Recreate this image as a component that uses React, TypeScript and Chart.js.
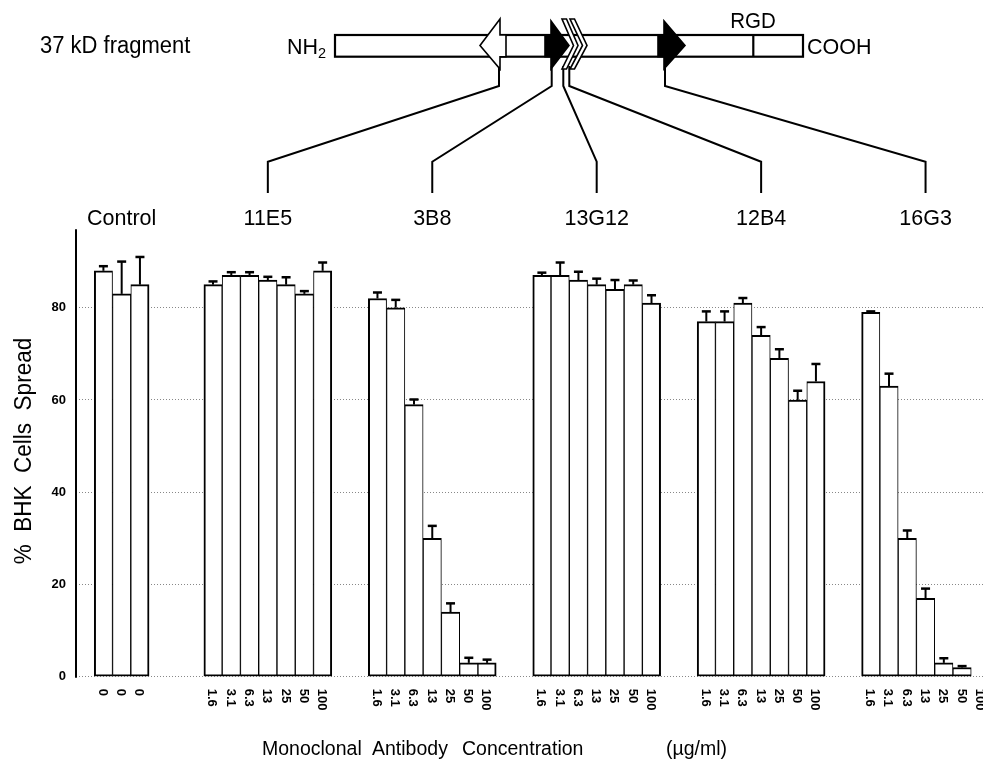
import React, { useEffect, useRef } from 'react';
import { Chart, registerables } from 'chart.js';

Chart.register(...registerables);

// ---------------- data ----------------
const groupNames = ['Control', '11E5', '3B8', '13G12', '12B4', '16G3'];
const controlConcentrations = ['0', '0', '0'];
const antibodyConcentrations = ['1.6', '3.1', '6.3', '13', '25', '50', '100'];

const controlValues = [88, 83, 85];
const controlErrors = [1, 7, 6];
const values11E5 = [85, 87, 87, 86, 85, 83, 88];
const errors11E5 = [0.7, 0.7, 0.7, 0.7, 1.6, 0.6, 1.8];
const values3B8 = [82, 80, 59, 30, 14, 3, 3];
const errors3B8 = [1.3, 1.7, 1.1, 2.7, 1.9, 1.1, 0.7];
const values13G12 = [87, 87, 86, 85, 84, 85, 81];
const errors13G12 = [0.6, 2.8, 1.8, 1.3, 2, 0.9, 1.7];
const values12B4 = [77, 77, 81, 74, 69, 60, 64];
const errors12B4 = [2.2, 2.2, 1.1, 1.8, 2, 2, 3.8];
const values16G3 = [79, 63, 30, 17, 3, 2, 0];
const errors16G3 = [0.2, 2.7, 1.7, 2.1, 1, 0.3, 0];

// empty category slots placed before each group
const gapSlots = [1, 3, 2, 2, 2, 2];
const yMin = 0;
const yMax = 97;
const yStep = 20;

// ---------------- build category table ----------------
const groupConc = [controlConcentrations, antibodyConcentrations, antibodyConcentrations, antibodyConcentrations, antibodyConcentrations, antibodyConcentrations];
const groupValues = [controlValues, values11E5, values3B8, values13G12, values12B4, values16G3];
const groupErrors = [controlErrors, errors11E5, errors3B8, errors13G12, errors12B4, errors16G3];

const labels: string[] = [];
const barValues: (number | null)[] = [];
const barErrors: (number | null)[] = [];
const groupRanges: [number, number][] = [];
groupNames.forEach((_, gi) => {
  for (let k = 0; k < gapSlots[gi]; k++) {
    labels.push('');
    barValues.push(null);
    barErrors.push(null);
  }
  const start = labels.length;
  groupConc[gi].forEach((c, j) => {
    labels.push(c);
    barValues.push(groupValues[gi][j]);
    barErrors.push(groupErrors[gi][j]);
  });
  groupRanges.push([start, labels.length - 1]);
});

const FONT = '"Liberation Sans", Arial, Helvetica, sans-serif';

function drawText(ctx: CanvasRenderingContext2D, s: string, x: number, y: number, size: number,
  opt: { align?: CanvasTextAlign; weight?: string; sy?: number; rot?: number; baseline?: CanvasTextBaseline } = {}) {
  ctx.save();
  ctx.translate(x, y);
  if (opt.rot) ctx.rotate(opt.rot);
  ctx.scale(1, opt.sy ?? 1);
  ctx.font = `${opt.weight ?? 'normal'} ${size}px ${FONT}`;
  ctx.textAlign = opt.align ?? 'left';
  ctx.textBaseline = opt.baseline ?? 'alphabetic';
  ctx.fillStyle = '#000';
  ctx.fillText(s, 0, 0);
  ctx.restore();
}

function poly(ctx: CanvasRenderingContext2D, pts: number[][], fill: string, stroke: boolean) {
  ctx.beginPath();
  pts.forEach((p, i) => (i ? ctx.lineTo(p[0], p[1]) : ctx.moveTo(p[0], p[1])));
  ctx.closePath();
  ctx.fillStyle = fill;
  ctx.fill();
  if (stroke) ctx.stroke();
}

// schematic anchor x positions of the epitopes (decoration)
const connectorTopX = [null, 499, 551.7, 563.3, 569.3, 665];

const decorPlugin = {
  id: 'decor',
  afterDatasetsDraw(chart: any) {
    const ctx: CanvasRenderingContext2D = chart.ctx;
    const meta = chart.getDatasetMeta(0);
    const ys = chart.scales.y;
    ctx.save();
    ctx.strokeStyle = '#000';
    meta.data.forEach((bar: any, i: number) => {
      const v = barValues[i];
      const e = barErrors[i];
      if (v == null || !e) return;
      const x = bar.x;
      const y0 = ys.getPixelForValue(v);
      const y1 = ys.getPixelForValue(v + e);
      ctx.lineWidth = 2;
      ctx.beginPath();
      ctx.moveTo(x, y0);
      ctx.lineTo(x, y1);
      ctx.stroke();
      ctx.lineWidth = 2.5;
      ctx.beginPath();
      ctx.moveTo(x - 4.5, y1);
      ctx.lineTo(x + 4.5, y1);
      ctx.stroke();
    });
    ctx.restore();
  },
  afterDraw(chart: any) {
    const ctx: CanvasRenderingContext2D = chart.ctx;
    const xs = chart.scales.x;
    const area = chart.chartArea;
    ctx.save();
    // y axis line
    ctx.strokeStyle = '#000';
    ctx.lineWidth = 2;
    ctx.beginPath();
    ctx.moveTo(area.left, area.top);
    ctx.lineTo(area.left, area.bottom + 1);
    ctx.stroke();

    // rotated concentration labels
    labels.forEach((lab, i) => {
      if (!lab) return;
      const x = xs.getPixelForValue(i) - 1;
      drawText(ctx, lab, x, area.bottom + 12, 13, { weight: 'bold', rot: Math.PI / 2, baseline: 'middle' });
    });

    // group labels and connectors
    groupNames.forEach((name, gi) => {
      const [s, e] = groupRanges[gi];
      const cx = (xs.getPixelForValue(s) + xs.getPixelForValue(e)) / 2;
      drawText(ctx, name, cx, 225, 21.5, { align: 'center', sy: 1.06 });
      const tx = connectorTopX[gi];
      if (tx != null) {
        ctx.lineWidth = 2;
        ctx.strokeStyle = '#000';
        ctx.beginPath();
        ctx.moveTo(tx, 66);
        ctx.lineTo(tx, 86);
        ctx.lineTo(cx, 161.7);
        ctx.lineTo(cx, 193);
        ctx.stroke();
      }
    });

    // schematic of the 37 kD fragment
    ctx.lineWidth = 2.2;
    ctx.strokeStyle = '#000';
    ctx.fillStyle = '#fff';
    ctx.fillRect(335, 35, 468, 21.7);
    ctx.strokeRect(335, 35, 468, 21.7);
    // RGD divider
    ctx.beginPath();
    ctx.moveTo(753.3, 35);
    ctx.lineTo(753.3, 56.7);
    ctx.stroke();
    // white left-pointing arrow (11E5)
    ctx.lineWidth = 1.6;
    poly(ctx, [[500, 19], [480, 45.5], [500, 69], [500, 56.7], [506, 56.7], [506, 35], [500, 35]], '#fff', true);
    // black arrow (3B8)
    poly(ctx, [[545, 35], [551, 35], [551, 21], [569, 45.5], [551, 69], [551, 56.7], [545, 56.7]], '#000', true);
    // double chevron (13G12, 12B4)
    const chevron = (x0: number, tip: number) =>
      poly(ctx, [[x0, 19], [x0 + 4.5, 19], [tip, 45.5], [x0 + 4.5, 69], [x0, 69], [tip - 4.5, 45.5]], '#fff', true);
    chevron(562, 578);
    chevron(570, 587);
    // black arrow (16G3)
    poly(ctx, [[658, 35], [664, 35], [664, 21], [685, 45.5], [664, 69], [664, 56.7], [658, 56.7]], '#000', true);

    drawText(ctx, '37 kD fragment', 40, 53, 22, { sy: 1.05 });
    drawText(ctx, 'NH', 287, 54, 21.5, { sy: 1.05 });
    drawText(ctx, '2', 318, 58, 14.5, { sy: 1.05 });
    drawText(ctx, 'COOH', 807, 54, 21.5, { sy: 1.05 });
    drawText(ctx, 'RGD', 753, 28, 20.5, { align: 'center', sy: 1.05 });

    // axis titles
    drawText(ctx, '%  BHK  Cells  Spread', 31, 451, 22.5, { align: 'center', rot: -Math.PI / 2, sy: 1.05 });
    drawText(ctx, 'Monoclonal', 262, 755, 19.5, { sy: 1.08 });
    drawText(ctx, 'Antibody', 372, 755, 19.5, { sy: 1.08 });
    drawText(ctx, 'Concentration', 462, 755, 19.5, { sy: 1.08 });
    drawText(ctx, '(\u00b5g/ml)', 666, 755, 19.5, { sy: 1.08 });
    ctx.restore();
  },
};

export default function App() {
  const ref = useRef<HTMLCanvasElement | null>(null);
  useEffect(() => {
    if (!ref.current) return;
    const chart = new Chart(ref.current, {
      type: 'bar',
      data: {
        labels,
        datasets: [
          {
            data: barValues as any,
            backgroundColor: '#ffffff',
            borderColor: '#000000',
            borderSkipped: false,
            borderWidth: (c: any) => {
              const i = c.dataIndex;
              const first = barValues[i - 1] == null;
              const last = i + 1 >= barValues.length || barValues[i + 1] == null;
              return { top: 2, bottom: 2, left: first ? 2 : 1, right: last ? 2 : 1 };
            },
            barPercentage: 1,
            categoryPercentage: 1,
          },
        ],
      },
      options: {
        animation: false,
        responsive: false,
        events: [],
        layout: { padding: { left: 0, right: 0.5, top: 229.3, bottom: 85.3 } },
        plugins: { legend: { display: false }, tooltip: { enabled: false }, title: { display: false } },
        scales: {
          x: {
            type: 'category',
            grid: { display: false },
            border: { display: false },
            ticks: { display: false },
            afterFit: (s: any) => { s.height = 0; },
          },
          y: {
            min: yMin,
            max: yMax,
            afterFit: (s: any) => { s.width = 76; },
            ticks: {
              stepSize: yStep,
              includeBounds: false,
              padding: 10,
              color: '#000',
              font: { family: FONT, size: 13, weight: 'bold' },
            },
            grid: { color: '#888', lineWidth: 1, drawTicks: false },
            border: { display: false, dash: [1, 2] },
          },
        },
      },
      plugins: [decorPlugin],
    } as any);
    return () => chart.destroy();
  }, []);

  return (
    <div style={{ position: 'absolute', left: 0, top: 0, width: 983, height: 762, overflow: 'hidden', background: '#fff' }}>
      <canvas ref={ref} width={990} height={762} style={{ display: 'block' }} />
    </div>
  );
}
